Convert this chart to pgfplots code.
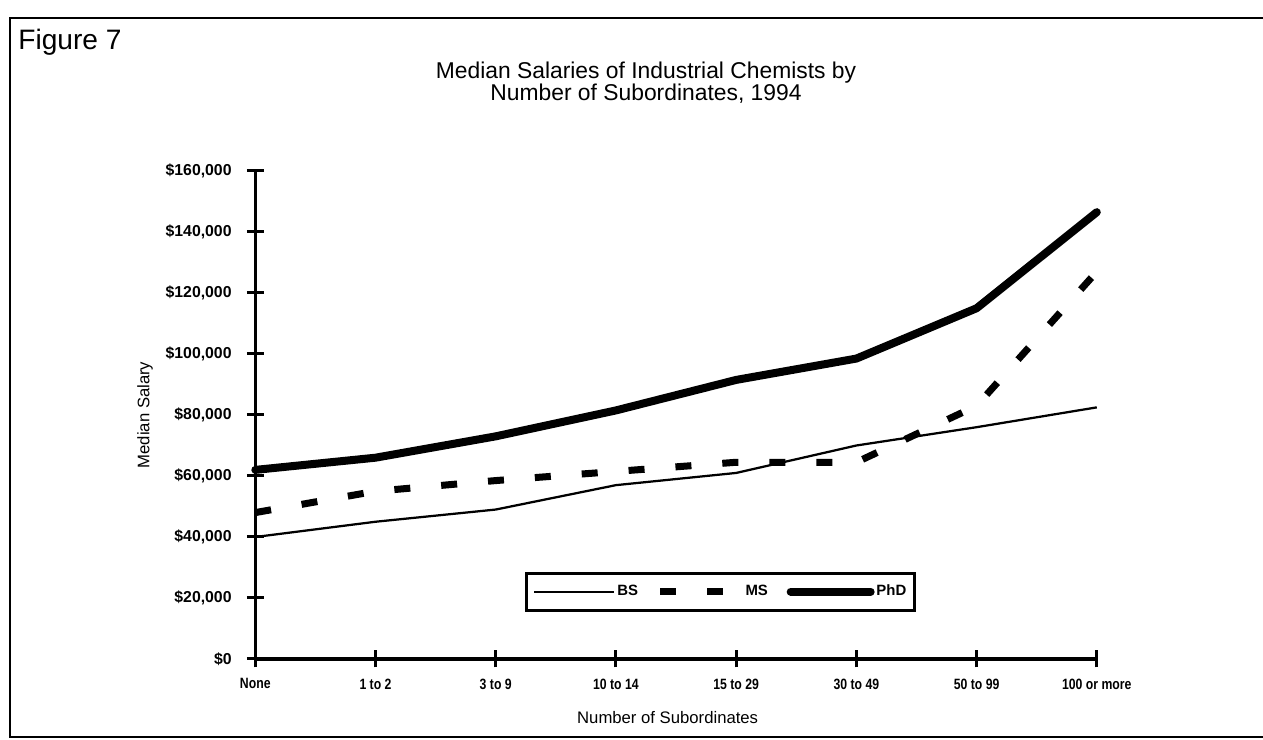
\documentclass[border=0pt]{standalone}
\usepackage{fontspec}
\setmainfont{Liberation Sans}
\newfontfamily\narrowfont[FakeStretch=0.82]{Liberation Sans}
\usepackage{pgfplots}
\usepackage{pgfplotstable}
\pgfplotsset{compat=1.18}

% median salary by number of subordinates
\pgfplotstableread{
x BS MS PhD
0 40000 48000 62000
1 45000 55000 66000
2 49000 58500 73000
3 57000 61500 81500
4 61000 64500 91500
5 70000 64500 98500
6 76000 83000 115000
7 82500 127000 146500
}\salaries

\begin{document}
\begin{tikzpicture}[x=0.2mm,y=0.2mm]
\path[use as bounding box] (0,0) rectangle (1263,740);
% outer frame (right side cut off in the scan)
\draw[line width=0.45mm] (1263,722) -- (10,722) -- (10,3) -- (1263,3);
\node[anchor=base west, font=\fontsize{16}{18}\selectfont, inner sep=0pt] at (18,690) {Figure 7};
\node[anchor=base, font=\fontsize{13}{15}\selectfont, inner sep=0pt] at (646,661.7)
  {Median Salaries of Industrial Chemists by};
\node[anchor=base, font=\fontsize{13}{15}\selectfont, inner sep=0pt] at (646,639.3)
  {Number of Subordinates, 1994};

\begin{axis}[
    at={(51.06mm,16.2mm)}, anchor=south west,
    scale only axis,
    width=168.3mm, height=97.6mm,
    xmin=0, xmax=7,
    ymin=0, ymax=160000,
    clip=false,
    axis lines=left,
    axis line style={line width=0.65mm, -},
    tick style={line width=0.6mm, black},
    major tick length=3.4mm,
    tick align=center,
    xtick={0,...,7},
    xticklabels={None,1 to 2,3 to 9,10 to 14,15 to 29,30 to 49,50 to 99,100 or more},
    xticklabel style={font=\narrowfont\bfseries\fontsize{8.5}{10}\selectfont, yshift=-1mm},
    ytick={0,20000,...,160000},
    scaled y ticks=false,
    yticklabel={\$\pgfmathprintnumber[fixed,1000 sep={,},assume math mode=true]{\tick}},
    yticklabel style={font=\bfseries\fontsize{9}{10}\selectfont, xshift=-1.8mm},
    xlabel={Number of Subordinates},
    ylabel={Median Salary},
    xlabel style={font=\fontsize{9.5}{11}\selectfont, at={(axis description cs:0.49,-0.119)}, anchor=center},
    ylabel style={font=\fontsize{9.5}{11}\selectfont, at={(axis description cs:-0.131,0.5)}, anchor=center},
    legend columns=3,
    legend image code/.code={\draw[#1] (0mm,0mm) -- (16mm,0mm);},
    legend style={at={(axis description cs:0.553,0.138)}, anchor=center,
        draw=black, line width=0.6mm,
        font=\bfseries\fontsize{8.5}{10}\selectfont,
        nodes={inner sep=1pt},
        inner xsep=1.3mm, inner ysep=2mm,
        /tikz/every even column/.append style={column sep=3.4mm}},
]
\addplot[black, line width=0.45mm] table[x=x, y=BS] {\salaries};
\addlegendentry{BS}
\addplot[black, line width=1.4mm, line cap=butt, dash pattern=on 3.2mm off 6.2mm] table[x=x, y=MS] {\salaries};
\addlegendentry{MS}
\addplot[black, line width=1.6mm, line cap=round, line join=round] table[x=x, y=PhD] {\salaries};
\addlegendentry{PhD}
\end{axis}
\end{tikzpicture}
\end{document}
